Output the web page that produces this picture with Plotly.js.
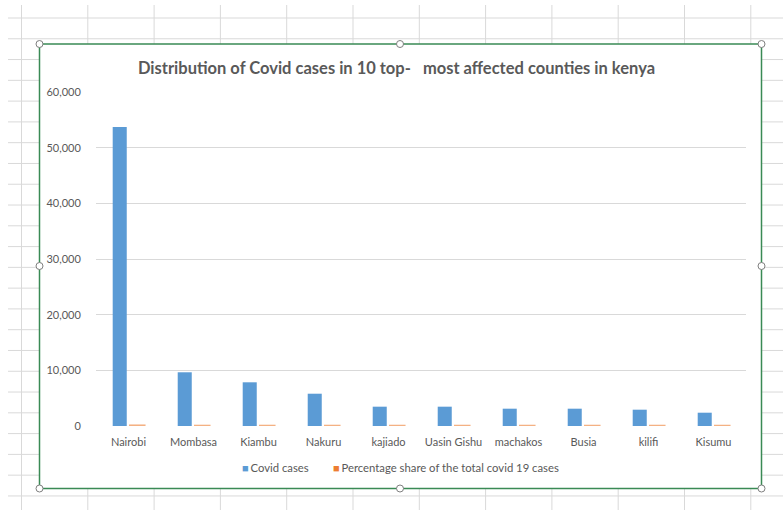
<!DOCTYPE html>
<html>
<head>
<meta charset="utf-8">
<script src="https://cdn.plot.ly/plotly-3.0.1.min.js"></script>
<style>html,body{margin:0;padding:0;background:#fff;}#chart{width:783px;height:510px;}</style>
</head>
<body>
<div id="chart"></div>
<script>
// Data
const counties = ["Nairobi", "Mombasa", "Kiambu", "Nakuru", "kajiado", "Uasin Gishu", "machakos", "Busia", "kilifi", "Kisumu"];
const covidCases = [53700, 9650, 7850, 5800, 3470, 3470, 3110, 3110, 2930, 2390];
const percentShare = [54.2, 9.7, 7.9, 5.8, 3.5, 3.5, 3.1, 3.1, 3.0, 2.4];
const yTicks = [0, 10000, 20000, 30000, 40000, 50000, 60000];
const seriesNames = ["Covid cases", "Percentage share of the total covid 19 cases"];
const seriesColors = ["#5B9BD5", "#F4B183"];

// Layout geometry (pixels)
const W = 783, H = 510;
const L = 96, R = 746, T = 92, B = 426;
const px = x => (x - L) / (R - L);
const py = y => (B - y) / (B - T);

const shapes = [];
// spreadsheet grid (decoration)
const gridCol = '#D9D9D9';
for (let k = 0; k < 12; k++) {
  const x = 21.5 + 66.3 * k;
  shapes.push({type: 'line', xref: 'paper', yref: 'paper', layer: 'below',
    x0: px(x), x1: px(x), y0: py(5), y1: py(510), line: {color: gridCol, width: 1}});
}
for (let k = 0; k < 24; k++) {
  const y = 18 + 20.78 * k;
  shapes.push({type: 'line', xref: 'paper', yref: 'paper', layer: 'below',
    x0: px(8), x1: px(783), y0: py(y), y1: py(y), line: {color: gridCol, width: 1}});
}
// chart frame
shapes.push({type: 'rect', xref: 'paper', yref: 'paper', layer: 'below',
  x0: px(39.5), x1: px(761.5), y0: py(44), y1: py(488.5),
  fillcolor: '#FFFFFF', line: {color: '#3A8A55', width: 1.5}});
// frame handles
const handles = [[39.5,44],[400,44],[761.5,44],[39.5,266],[761.5,266],[39.5,488.5],[400,488.5],[761.5,488.5]];
handles.forEach(([hx, hy]) => {
  shapes.push({type: 'circle', xref: 'paper', yref: 'paper', layer: 'above',
    x0: px(hx - 3.5), x1: px(hx + 3.5), y0: py(hy - 3.5), y1: py(hy + 3.5),
    fillcolor: '#FFFFFF', line: {color: '#7F7F7F', width: 1}});
});

const font = 'Lato, "Open Sans", sans-serif';

const traces = [
  {type: 'bar', name: seriesNames[0], x: counties, y: covidCases,
   marker: {color: seriesColors[0], line: {width: 0}}, hoverinfo: 'x+y'},
  {type: 'bar', name: seriesNames[1], x: counties, y: percentShare,
   marker: {color: seriesColors[1], line: {color: seriesColors[1], width: 2.5}}, hoverinfo: 'x+y'}
];

// legend drawn as text annotations (small square markers like Excel)
const legendPos = [240, 331];
const annotations = seriesNames.map((n, i) => ({
  xref: 'paper', yref: 'paper', x: px(legendPos[i]), y: py(467),
  xanchor: 'left', yanchor: 'middle', showarrow: false,
  text: '<span style="color:' + (i === 0 ? '#5B9BD5' : '#ED7D31') + ';font-size:11px">\u25A0</span><span style="font-size:7px">\u00a0</span>' + n,
  font: {family: font, size: 11.3, color: '#595959'}
}));

const layout = {
  width: W, height: H,
  margin: {l: L, r: W - R, t: T, b: H - B, pad: 0},
  paper_bgcolor: '#FFFFFF',
  plot_bgcolor: 'rgba(0,0,0,0)',
  font: {family: font, color: '#595959', size: 11},
  title: {
    text: 'Distribution of Covid cases in 10 top-\u00a0\u00a0 most affected counties in kenya',
    font: {family: 'Lato, "Open Sans", sans-serif', size: 16.5, color: '#595959', weight: 'bold'},
    x: px(396.5), xref: 'paper', xanchor: 'center',
    y: 1 - 68 / H, yref: 'container', yanchor: 'middle'
  },
  barmode: 'group',
  bargap: 0.46,
  bargroupgap: 0.2,
  xaxis: {
    type: 'category',
    tickfont: {family: font, size: 11, color: '#595959'},
    showgrid: false, zeroline: false, showline: false,
    ticks: 'outside', ticklen: 6, tickcolor: 'rgba(0,0,0,0)', automargin: false
  },
  yaxis: {
    range: [0, 60000],
    tickvals: yTicks,
    tickformat: ',',
    tickfont: {family: font, size: 11, color: '#595959'},
    showgrid: true, gridcolor: '#D9D9D9', gridwidth: 1,
    zeroline: false, showline: false,
    ticks: 'outside', ticklen: 12, tickcolor: 'rgba(0,0,0,0)',
    automargin: false
  },
  showlegend: false,
  annotations: annotations,
  shapes: shapes
};

Plotly.newPlot('chart', traces, layout, {displayModeBar: false, staticPlot: true});
</script>
</body>
</html>
